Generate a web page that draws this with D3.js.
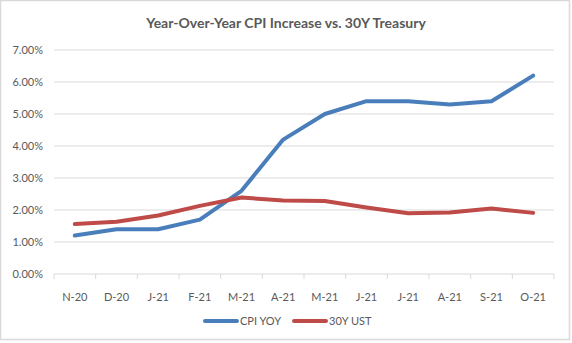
<!DOCTYPE html>
<html><head><meta charset="utf-8">
<script src="https://cdn.jsdelivr.net/npm/d3@7"></script>
<style>body{margin:0;background:#fff;} svg{display:block;font-family:Lato,"Open Sans",sans-serif;}</style>
</head><body><svg id="c" width="572" height="343"></svg>
<script>
const categories = ["N-20","D-20","J-21","F-21","M-21","A-21","M-21","J-21","J-21","A-21","S-21","O-21"];
const cpiYoy = [1.2,1.4,1.4,1.7,2.6,4.2,5.0,5.4,5.4,5.3,5.4,6.2];
const ust30 = [1.56,1.63,1.83,2.13,2.39,2.30,2.28,2.08,1.90,1.92,2.05,1.91];
const yTicks = [0,1,2,3,4,5,6,7];
const seriesNames = ["CPI YOY","30Y UST"];

const svg = d3.select("#c");
const W=572,H=343;
svg.append("rect").attr("x",0.5).attr("y",0.5).attr("width",W-3).attr("height",H-4)
  .attr("fill","#fff").attr("stroke","#d9d9d9").attr("stroke-width",1.5);

const L=54,R=554,T=50,B=274;
const x = d3.scaleBand().domain(d3.range(categories.length)).range([L,R]);
const y = d3.scaleLinear().domain([0,7]).range([B,T]);

// gridlines
svg.append("g").selectAll("line").data(yTicks.filter(d=>d>0)).join("line")
  .attr("x1",L).attr("x2",R).attr("y1",d=>y(d)).attr("y2",d=>y(d))
  .attr("stroke","#d9d9d9").attr("stroke-width",1);

// y labels
svg.append("g").selectAll("text").data(yTicks).join("text")
  .attr("x",L-11).attr("y",d=>y(d)+4).attr("text-anchor","end")
  .attr("font-size",11).attr("fill","#595959").text(d=>d.toFixed(2)+"%");

// x axis
const xa = svg.append("g").attr("transform",`translate(0,${B})`);
xa.append("line").attr("x1",L).attr("x2",R).attr("stroke","#d9d9d9");
xa.selectAll("line.t").data(d3.range(categories.length+1)).join("line").attr("class","t")
  .attr("x1",i=>L+i*x.step()).attr("x2",i=>L+i*x.step()).attr("y1",0).attr("y2",5).attr("stroke","#d9d9d9");
xa.selectAll("text").data(categories).join("text")
  .attr("x",(d,i)=>x(i)+x.bandwidth()/2).attr("y",27).attr("text-anchor","middle")
  .attr("font-size",11).attr("fill","#595959").text(d=>d);

const line = d3.line().x((d,i)=>x(i)+x.bandwidth()/2).y(d=>y(d));
const colors = ["#4a7ebb","#be4b48"];
[cpiYoy,ust30].forEach((s,k)=>{
  svg.append("path").datum(s).attr("d",line).attr("fill","none")
    .attr("stroke",colors[k]).attr("stroke-width",4).attr("stroke-linejoin","round").attr("stroke-linecap","round");
});

// title
svg.append("text").attr("x",286).attr("y",28).attr("text-anchor","middle")
  .attr("font-size",14).attr("font-weight","bold").attr("fill","#595959")
  .text("Year-Over-Year CPI Increase vs. 30Y Treasury");

// legend
const lg=[{x:205,t:240},{x:294,t:329}];
seriesNames.forEach((n,k)=>{
  svg.append("line").attr("x1",lg[k].x).attr("x2",lg[k].x+32).attr("y1",321).attr("y2",321)
    .attr("stroke",colors[k]).attr("stroke-width",4).attr("stroke-linecap","round");
  svg.append("text").attr("x",lg[k].t).attr("y",325).attr("font-size",11).attr("fill","#595959").text(n);
});
</script></body></html>
